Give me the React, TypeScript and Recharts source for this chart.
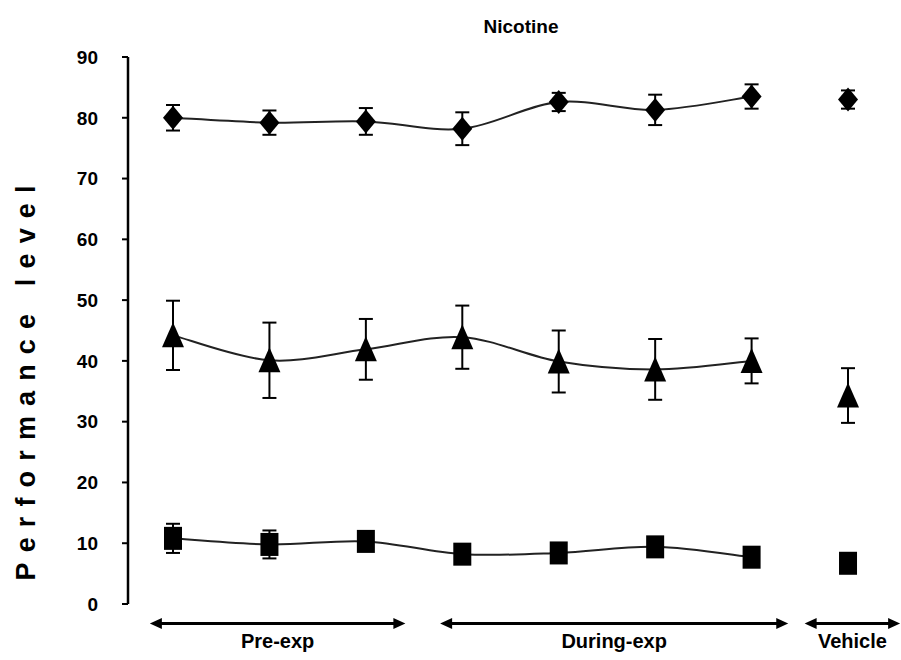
import React from 'react';
import { ComposedChart, Line, XAxis, YAxis, ErrorBar, ReferenceLine } from 'recharts';

// ---- data ----
const sessions = [1, 2, 3, 4, 5, 6, 7, 8]; // 8 = vehicle
const diamondMean = [80.0, 79.2, 79.4, 78.2, 82.6, 81.3, 83.5, 83.0];
const diamondErr = [2.1, 2.0, 2.2, 2.7, 1.5, 2.5, 2.0, 1.5];
const triangleMean = [44.2, 40.1, 41.9, 43.9, 39.9, 38.6, 40.0, 34.3];
const triangleErr = [5.7, 6.2, 5.0, 5.2, 5.1, 5.0, 3.7, 4.5];
const squareMean = [10.8, 9.8, 10.3, 8.2, 8.4, 9.4, 7.7, 6.7];
const squareErr = [2.4, 2.3, 1.2, 1.2, 1.2, 1.2, 1.2, 1.0];
const yTicks = [0, 10, 20, 30, 40, 50, 60, 70, 80, 90];
const groupLabels = ['Pre-exp', 'During-exp', 'Vehicle'];
const groupFrom = [0.76, 3.77, 7.55];
const groupTo = [3.41, 7.38, 8.54];
const arrowLevel = -3.2;
const title = 'Nicotine';
const yLabel = 'Performance level';
const vehicleIndex = 7;

const data = sessions.map((s, i) => {
  const main = i < vehicleIndex;
  return {
    x: s,
    dia: main ? diamondMean[i] : null,
    diaErr: main ? diamondErr[i] : null,
    tri: main ? triangleMean[i] : null,
    triErr: main ? triangleErr[i] : null,
    sq: main ? squareMean[i] : null,
    sqErr: main ? squareErr[i] : null,
    diaV: !main ? diamondMean[i] : null,
    diaVErr: !main ? diamondErr[i] : null,
    triV: !main ? triangleMean[i] : null,
    triVErr: !main ? triangleErr[i] : null,
    sqV: !main ? squareMean[i] : null,
    sqVErr: !main ? squareErr[i] : null,
  };
});

const FONT = "'Liberation Sans', Arial, sans-serif";

// Excel-like smoothed line (uniform Catmull-Rom as cubic Bezier)
const excelCurve = (context: any) => {
  let pts: number[][] = [];
  return {
    areaStart() {},
    areaEnd() {},
    lineStart() {
      pts = [];
    },
    point(x: number, y: number) {
      pts.push([+x, +y]);
    },
    lineEnd() {
      if (!pts.length) return;
      context.moveTo(pts[0][0], pts[0][1]);
      for (let i = 0; i < pts.length - 1; i++) {
        const p0 = pts[i - 1] || pts[i];
        const p1 = pts[i];
        const p2 = pts[i + 1];
        const p3 = pts[i + 2] || pts[i + 1];
        context.bezierCurveTo(
          p1[0] + (p2[0] - p0[0]) / 6,
          p1[1] + (p2[1] - p0[1]) / 6,
          p2[0] - (p3[0] - p1[0]) / 6,
          p2[1] - (p3[1] - p1[1]) / 6,
          p2[0],
          p2[1]
        );
      }
    },
  };
};

const Diamond = (props: any) => {
  const { cx, cy, index } = props;
  if (cx == null || cy == null || isNaN(cy)) return <g key={`d-${index}`} />;
  return (
    <path key={`d-${index}`} d={`M${cx},${cy - 12} L${cx + 10},${cy} L${cx},${cy + 12} L${cx - 10},${cy} Z`} fill="#000" />
  );
};
const Triangle = (props: any) => {
  const { cx, cy, index } = props;
  if (cx == null || cy == null || isNaN(cy)) return <g key={`t-${index}`} />;
  return (
    <path key={`t-${index}`} d={`M${cx},${cy - 13} L${cx + 11},${cy + 12} L${cx - 11},${cy + 12} Z`} fill="#000" />
  );
};
const Square = (props: any) => {
  const { cx, cy, index } = props;
  if (cx == null || cy == null || isNaN(cy)) return <g key={`s-${index}`} />;
  return <rect key={`s-${index}`} x={cx - 9} y={cy - 11.5} width={18} height={23} fill="#000" />;
};

const makeArrow = (label: string) => (p: any) => {
  const { x1, y1, x2 } = p;
  const y = y1;
  const h = 12;
  const w = 5.5;
  return (
    <g>
      <line x1={x1 + 4} y1={y} x2={x2 - 4} y2={y} stroke="#000" strokeWidth={3} />
      <polygon points={`${x1},${y} ${x1 + h},${y - w} ${x1 + h},${y + w}`} fill="#000" />
      <polygon points={`${x2},${y} ${x2 - h},${y - w} ${x2 - h},${y + w}`} fill="#000" />
      <text x={(x1 + x2) / 2} y={y + 25} textAnchor="middle" fontFamily={FONT} fontWeight="bold" fontSize={20} fill="#000">
        {label}
      </text>
    </g>
  );
};

const lineCommon = {
  stroke: '#222',
  strokeWidth: 2,
  type: excelCurve as any,
  isAnimationActive: false,
  connectNulls: false,
  activeDot: false as const,
};

export default function App() {
  return (
    <div style={{ position: 'absolute', left: 0, top: 0, width: 901, height: 660, background: '#fff' }}>
      <ComposedChart width={901} height={660} data={data} margin={{ top: 57, right: 1, bottom: 56, left: 0 }}>
        <XAxis dataKey="x" type="number" domain={[0.5333, 8.539]} hide allowDataOverflow />
        <YAxis
          type="number"
          domain={[0, 90]}
          ticks={yTicks}
          interval={0}
          width={128}
          allowDataOverflow
          axisLine={{ stroke: '#000', strokeWidth: 2.5 }}
          tickLine={{ stroke: '#000', strokeWidth: 2 }}
          tickSize={6}
          tickMargin={24}
          tick={{ fill: '#000', fontSize: 19, fontWeight: 'bold', fontFamily: FONT }}
        />
        <Line dataKey="dia" {...lineCommon} dot={Diamond}>
          <ErrorBar dataKey="diaErr" direction="y" width={7} stroke="#000" strokeWidth={2} />
        </Line>
        <Line dataKey="tri" {...lineCommon} dot={Triangle}>
          <ErrorBar dataKey="triErr" direction="y" width={7} stroke="#000" strokeWidth={2} />
        </Line>
        <Line dataKey="sq" {...lineCommon} dot={Square}>
          <ErrorBar dataKey="sqErr" direction="y" width={7} stroke="#000" strokeWidth={2} />
        </Line>
        <Line dataKey="diaV" {...lineCommon} stroke="none" dot={Diamond}>
          <ErrorBar dataKey="diaVErr" direction="y" width={7} stroke="#000" strokeWidth={2} />
        </Line>
        <Line dataKey="triV" {...lineCommon} stroke="none" dot={Triangle}>
          <ErrorBar dataKey="triVErr" direction="y" width={7} stroke="#000" strokeWidth={2} />
        </Line>
        <Line dataKey="sqV" {...lineCommon} stroke="none" dot={Square}>
          <ErrorBar dataKey="sqVErr" direction="y" width={7} stroke="#000" strokeWidth={2} />
        </Line>
        {groupLabels.map((g, i) => (
          <ReferenceLine
            key={g}
            ifOverflow="visible"
            segment={[
              { x: groupFrom[i], y: arrowLevel },
              { x: groupTo[i], y: arrowLevel },
            ]}
            shape={makeArrow(g)}
          />
        ))}
      </ComposedChart>
      <svg width={901} height={660} style={{ position: 'absolute', left: 0, top: 0, pointerEvents: 'none' }}>
        <text x={521} y={33} textAnchor="middle" fontFamily={FONT} fontWeight="bold" fontSize={19} fill="#000">
          {title}
        </text>
        <text
          transform="translate(35,383) rotate(-90)"
          textAnchor="middle"
          fontFamily={FONT}
          fontWeight="bold"
          fontSize={27}
          fill="#000"
          textLength={395}
          lengthAdjust="spacing"
        >
          {yLabel}
        </text>
      </svg>
    </div>
  );
}
